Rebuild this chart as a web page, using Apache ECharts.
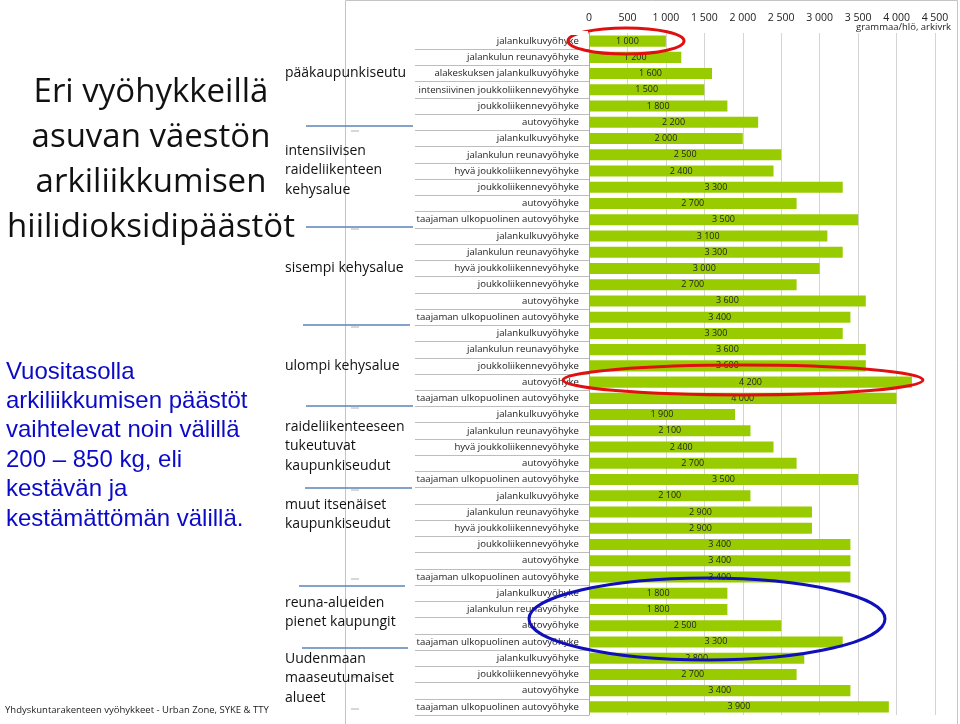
<!DOCTYPE html>
<html>
<head>
<meta charset="utf-8">
<script src="https://cdn.jsdelivr.net/npm/echarts@6/dist/echarts.min.js"></script>
<style>html,body{margin:0;padding:0;background:#fff}#c{width:960px;height:724px}</style>
</head>
<body>
<div id="c"></div>
<script>
// ---- data (top to bottom) ----
const zonesPaakaupunkiseutu = ['jalankulkuvyöhyke','jalankulun reunavyöhyke','alakeskuksen jalankulkuvyöhyke','intensiivinen joukkoliikennevyöhyke','joukkoliikennevyöhyke','autovyöhyke'];
const valuesPaakaupunkiseutu = [1000,1200,1600,1500,1800,2200];
const zonesIntensiivinen = ['jalankulkuvyöhyke','jalankulun reunavyöhyke','hyvä joukkoliikennevyöhyke','joukkoliikennevyöhyke','autovyöhyke','taajaman ulkopuolinen autovyöhyke'];
const valuesIntensiivinen = [2000,2500,2400,3300,2700,3500];
const zonesSisempi = ['jalankulkuvyöhyke','jalankulun reunavyöhyke','hyvä joukkoliikennevyöhyke','joukkoliikennevyöhyke','autovyöhyke','taajaman ulkopuolinen autovyöhyke'];
const valuesSisempi = [3100,3300,3000,2700,3600,3400];
const zonesUlompi = ['jalankulkuvyöhyke','jalankulun reunavyöhyke','joukkoliikennevyöhyke','autovyöhyke','taajaman ulkopuolinen autovyöhyke'];
const valuesUlompi = [3300,3600,3600,4200,4000];
const zonesRaide = ['jalankulkuvyöhyke','jalankulun reunavyöhyke','hyvä joukkoliikennevyöhyke','autovyöhyke','taajaman ulkopuolinen autovyöhyke'];
const valuesRaide = [1900,2100,2400,2700,3500];
const zonesMuut = ['jalankulkuvyöhyke','jalankulun reunavyöhyke','hyvä joukkoliikennevyöhyke','joukkoliikennevyöhyke','autovyöhyke','taajaman ulkopuolinen autovyöhyke'];
const valuesMuut = [2100,2900,2900,3400,3400,3400];
const zonesReuna = ['jalankulkuvyöhyke','jalankulun reunavyöhyke','autovyöhyke','taajaman ulkopuolinen autovyöhyke'];
const valuesReuna = [1800,1800,2500,3300];
const zonesUusimaa = ['jalankulkuvyöhyke','joukkoliikennevyöhyke','autovyöhyke','taajaman ulkopuolinen autovyöhyke'];
const valuesUusimaa = [2800,2700,3400,3900];

const xTicks = [0,500,1000,1500,2000,2500,3000,3500,4000,4500];

const categories = [].concat(zonesPaakaupunkiseutu, zonesIntensiivinen, zonesSisempi, zonesUlompi, zonesRaide, zonesMuut, zonesReuna, zonesUusimaa);
const values = [].concat(valuesPaakaupunkiseutu, valuesIntensiivinen, valuesSisempi, valuesUlompi, valuesRaide, valuesMuut, valuesReuna, valuesUusimaa);

function fmt(v){ v = Math.round(v); return v >= 1000 ? Math.floor(v/1000) + ' ' + String(v%1000).padStart(3,'0') : String(v); }

const FONT = '"Open Sans", "Noto Sans", sans-serif';

function txt(x, y, t, size, color, align, family){
  return {type:'text', x:x, y:y, silent:true, z:10,
    style:{text:t, fill:color, fontSize:size, fontFamily:family||FONT, align:align||'left', verticalAlign:'middle'}};
}
function hline(x1, x2, y, color, w){
  return {type:'line', silent:true, z:5, shape:{x1:x1, y1:y, x2:x2, y2:y}, style:{stroke:color, lineWidth:w}};
}

const graphics = [];
// frame
graphics.push({type:'rect', silent:true, z:0, shape:{x:345.5, y:0.5, width:612, height:740}, style:{fill:'none', stroke:'#c4c4c4', lineWidth:1}});
// hide the top boundary tick of the label column
graphics.push({type:'rect', silent:true, z:50, shape:{x:413, y:31, width:175, height:4}, style:{fill:'#ffffff'}});
// title
const titleLines = ['Eri vyöhykkeillä','asuvan väestön','arkiliikkumisen','hiilidioksidipäästöt'];
const titleY = [93,138,183,228];
titleLines.forEach((t,i)=>graphics.push(txt(151, titleY[i], t, 33, '#111', 'center')));
// blue note
const noteLines = ['Vuositasolla','arkiliikkumisen päästöt','vaihtelevat noin välillä','200 – 850 kg, eli','kestävän ja','kestämättömän välillä.'];
noteLines.forEach((t,i)=>graphics.push(txt(6, 372 + i*29.4, t, 24, '#0a0ac8', 'left', '"Liberation Sans", Arial, sans-serif')));
// footer
graphics.push(txt(5, 710, 'Yhdyskuntarakenteen vyöhykkeet - Urban Zone, SYKE & TTY', 9.5, '#222'));
// group labels
const groupLabels = [
  [['pääkaupunkiseutu'], 73],
  [['intensiivisen','raideliikenteen','kehysalue'], 151],
  [['sisempi kehysalue'], 268],
  [['ulompi kehysalue'], 366],
  [['raideliikenteeseen','tukeutuvat','kaupunkiseudut'], 427],
  [['muut itsenäiset','kaupunkiseudut'], 505],
  [['reuna-alueiden','pienet kaupungit'], 603],
  [['Uudenmaan','maaseutumaiset','alueet'], 659]
];
groupLabels.forEach(g=>g[0].forEach((t,i)=>graphics.push(txt(285, g[1] + i*19.5, t, 14, '#111'))));
// blue separators
[[306,413,126],[306,413,227],[303,410,325],[306,413,406],[305,412,488],[299,405,586],[302,408,648]]
  .forEach(s=>graphics.push(hline(s[0], s[1], s[2], '#5b83b8', 1.5)));
// small grey dashes
[131,229,327,408,490,579,677,709].forEach(y=>graphics.push(hline(351, 359, y, '#b0b0b0', 1)));
// axis unit
graphics.push(txt(951, 27, 'grammaa/hlö, arkivrk', 9.5, '#222', 'right'));
// annotations
graphics.push({type:'ellipse', silent:true, z:20, shape:{cx:626, cy:41, rx:58, ry:13}, style:{fill:'none', stroke:'#e01010', lineWidth:3}});
graphics.push({type:'ellipse', silent:true, z:20, shape:{cx:743, cy:380, rx:180, ry:15}, style:{fill:'none', stroke:'#e01010', lineWidth:3}});
graphics.push({type:'ellipse', silent:true, z:20, shape:{cx:707, cy:619, rx:178, ry:41}, style:{fill:'none', stroke:'#1010b8', lineWidth:3}});

const chart = echarts.init(document.getElementById('c'), null, {renderer:'canvas'});
chart.setOption({
  animation:false,
  backgroundColor:'#ffffff',
  grid:{left:589, top:33, width:346, height:682, containLabel:false},
  xAxis:{
    type:'value', position:'top', min:xTicks[0], max:xTicks[xTicks.length-1], interval:xTicks[1]-xTicks[0],
    axisLine:{show:false}, axisTick:{show:false},
    axisLabel:{formatter:fmt, fontSize:10.5, color:'#222', fontFamily:FONT, margin:9},
    splitLine:{show:true, lineStyle:{color:'#d4d4d4', width:1}}
  },
  yAxis:{
    type:'category', inverse:true, data:categories,
    axisLine:{show:true, lineStyle:{color:'#a8a8a8'}},
    axisTick:{show:true, length:174, lineStyle:{color:'#bdbdbd'}},
    axisLabel:{fontSize:9.6, color:'#222', fontFamily:FONT, margin:10}
  },
  series:[{
    type:'bar', data:values, barCategoryGap:'32%',
    itemStyle:{color:'#99cc00'},
    label:{show:true, position:'inside', formatter:p=>fmt(p.value), fontSize:9, color:'#222', fontFamily:FONT}
  }],
  graphic:graphics
});
</script>
</body>
</html>
